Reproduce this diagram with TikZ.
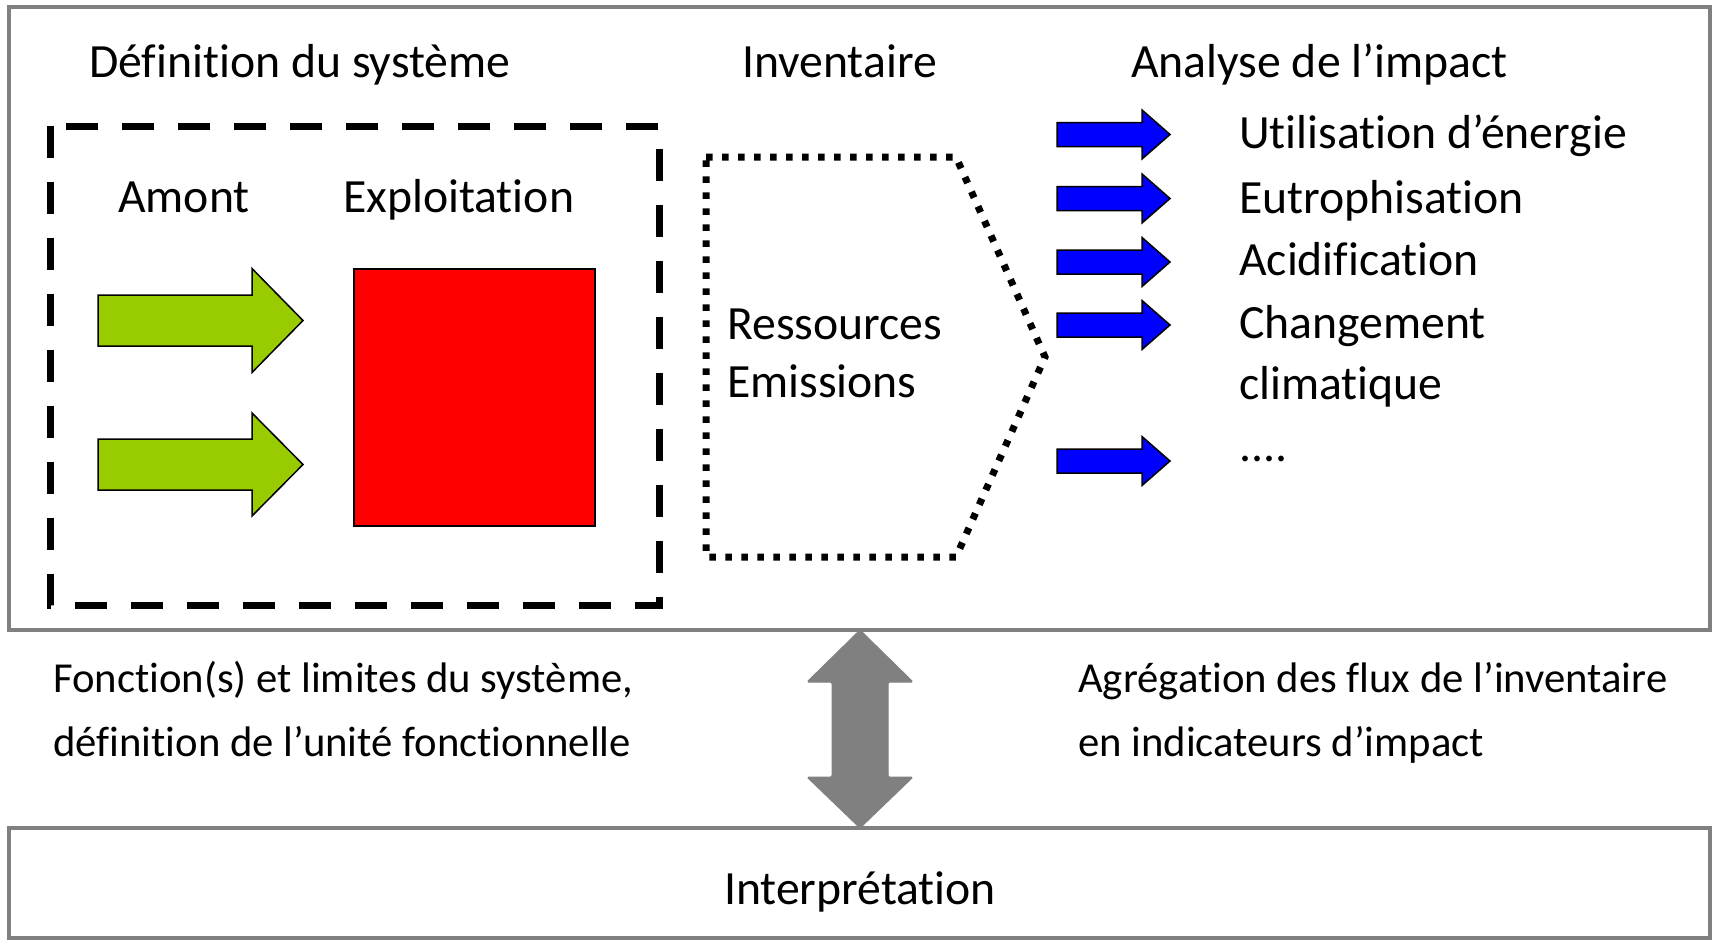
\documentclass[tikz,border=0pt]{standalone}
\usepackage{fontspec}
\setmainfont{Carlito}[Ligatures={NoCommon,NoContextual}]
\definecolor{framegray}{HTML}{808080}
\definecolor{amontgreen}{HTML}{99CC00}
\definecolor{flowblue}{HTML}{0000FF}
\definecolor{opred}{HTML}{FF0000}
% right-pointing block arrow: style, tail x, head-base x, tip x, centre y, shaft half-height, head half-height
\newcommand{\blockarrow}[7]{%
  \draw[#1] (#2,#5-#6) -- (#3,#5-#6) -- (#3,#5-#7) -- (#4,#5)
    -- (#3,#5+#7) -- (#3,#5+#6) -- (#2,#5+#6) -- cycle;}
\begin{document}
\begin{tikzpicture}[x=1pt,y=-1pt,
  txt/.style={anchor=base west, inner sep=0pt, font=\fontsize{47.7}{56}\selectfont},
  txtc/.style={anchor=base, inner sep=0pt, font=\fontsize{47.7}{56}\selectfont},
  note/.style={anchor=base west, inner sep=0pt, font=\fontsize{42.7}{50}\selectfont},
  panel/.style={draw=framegray, line width=4pt},
  greenarrow/.style={fill=amontgreen, draw=black, line width=1.5pt},
  bluearrow/.style={fill=flowblue, draw=black, line width=1.5pt},
  sysbound/.style={draw=black, line width=7pt, dash pattern=on 32pt off 24pt},
  invbound/.style={draw=black, line width=7pt, dash pattern=on 6.5pt off 9.5pt},
  linkarrow/.style={fill=framegray, draw=framegray, line width=1pt, rounded corners=1.5pt}]
\useasboundingbox (0,0) rectangle (1717,943);

% panels
\draw[panel] (8.5,6.5) rectangle (1710,630);
\draw[panel] (8.5,828) rectangle (1710,938);

% headings
\node[txt] (hdef) at (89,77) {Définition du système};
\node[txt] (hinv) at (742,77) {Inventaire};
\node[txt] (himp) at (1131,77) {Analyse de l’impact};

% system definition
\draw[sysbound] (50,126) rectangle (659,605);
\node[txt] (amont) at (118,212) {Amont};
\node[txt] (expl) at (343,212) {Exploitation};
\blockarrow{greenarrow}{98}{252}{303}{320.5}{25.5}{52}
\blockarrow{greenarrow}{98}{252}{303}{464.5}{25.5}{51.5}
\draw[fill=opred, draw=black, line width=1.5pt] (354,269) rectangle (595,526);

% inventory
\draw[invbound] (706,157) -- (956,157) -- (1045,357) -- (956,557) -- (706,557) -- cycle;
\node[txt] (res) at (727,339) {Ressources};
\node[txt] (emi) at (727,397) {Emissions};

% impact categories
\blockarrow{bluearrow}{1057}{1142}{1170}{134.5}{12}{24.5}
\blockarrow{bluearrow}{1057}{1142}{1170}{198.5}{12}{24.5}
\blockarrow{bluearrow}{1057}{1142}{1170}{262}{12}{24.5}
\blockarrow{bluearrow}{1057}{1142}{1170}{325}{12}{24.5}
\blockarrow{bluearrow}{1057}{1142}{1170}{461}{12}{24.5}
\node[txt] (c1) at (1239,148) {Utilisation d’énergie};
\node[txt] (c2) at (1239,213) {Eutrophisation};
\node[txt] (c3) at (1239,275) {Acidification};
\node[txt] (c4) at (1239,338) {Changement};
\node[txt] (c4b) at (1239,399) {climatique};
\node[txt] (c5) at (1239,461) {....};

% notes under the panel
\node[note] (n1) at (53,692) {Fonction(s) et limites du système,};
\node[note] (n2) at (53,756) {définition de l’unité fonctionnelle};
\node[note] (n3) at (1078,692) {Agrégation des flux de l’inventaire};
\node[note] (n4) at (1078,756) {en indicateurs d’impact};

% interpretation and the two-way link
\node[txtc] (interp) at (860,904) {Interprétation};
\draw[linkarrow] (860,630) -- (913,682) -- (888,682) -- (888,777) -- (913,777)
  -- (860,828) -- (807,777) -- (832,777) -- (832,682) -- (807,682) -- cycle;
\end{tikzpicture}
\end{document}
